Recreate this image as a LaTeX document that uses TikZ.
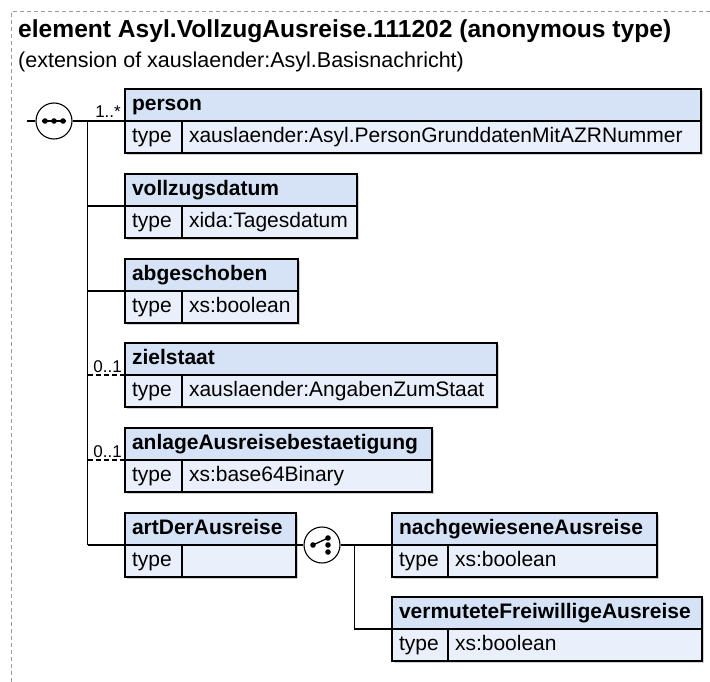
\documentclass[tikz,border=0pt]{standalone}
\usepackage{fontspec}
\setmainfont{Liberation Sans}
\usetikzlibrary{calc,shadows}
\definecolor{hdrblue}{HTML}{D6E3F7}
\definecolor{rowblue}{HTML}{EAF0FB}
\definecolor{framegray}{HTML}{9C9C9C}

\begin{document}
\begin{tikzpicture}[x=1pt,y=-1pt]
  \tikzset{boxshadow/.style={drop shadow={shadow xshift=2pt,shadow yshift=-2pt,fill=black!18,opacity=1}}}
  \tikzset{elemhead/.style={draw=black,line width=1.1pt,fill=hdrblue,anchor=north west,outer sep=0pt,
      minimum height=32pt,inner xsep=7pt,inner ysep=0pt,text height=15pt,text depth=4.5pt,align=left,
      font=\fontsize{21}{24}\selectfont\bfseries,boxshadow}}
  \tikzset{typecell/.style={elemhead,fill=rowblue,font=\fontsize{21}{24}\selectfont,text width=43pt}}
  \tikzset{typeval/.style={typecell,text width=#1}}
  \tikzset{conn/.style={draw=black,line width=1.1pt}}
  \tikzset{optconn/.style={conn,dash pattern=on 5pt off 3pt}}
  \tikzset{mult/.style={anchor=base east,inner sep=0pt,font=\fontsize{17}{18}\selectfont}}
  \tikzset{compositor/.style={circle,draw=black,line width=1.1pt,fill=white,minimum size=36pt,inner sep=0pt}}

  \useasboundingbox (0,0) rectangle (710,682);
  \draw[framegray,line width=1pt,dash pattern=on 4pt off 3pt] (11,682) -- (11,12) -- (710,12);

  \node[anchor=base west,inner sep=0pt,font=\fontsize{24.6}{28}\selectfont\bfseries] (title) at (18,38)
    {element Asyl.VollzugAusreise.111202 (anonymous type)};
  \node[anchor=base west,inner sep=0pt,font=\fontsize{21.5}{26}\selectfont] (subtitle) at (18,68)
    {(extension of xauslaender:Asyl.Basisnachricht)};

  \node[compositor] (seq) at (54,121) {};
  \draw[line width=1.3pt] ([xshift=-12pt]seq.center) -- ([xshift=12pt]seq.center);
  \foreach \dx in {-9,0,9}
    \fill ([xshift=\dx pt]seq.center) circle (2.8pt);
  \coordinate (lead) at ($(seq.west)+(-8,0)$);
  \coordinate (trunk) at ($(seq.east)+(15,0)$);

  \node[elemhead,text width=562pt] (person) at (125,89) {person};
  \node[typecell] (person-t) at (person.south west) {type};
  \node[typeval=505pt] (person-v) at (person-t.north east) {xauslaender:Asyl.PersonGrunddatenMitAZRNummer};

  \node[elemhead,text width=218pt] (vollz) at (125,174) {vollzugsdatum};
  \node[typecell] (vollz-t) at (vollz.south west) {type};
  \node[typeval=161pt] (vollz-v) at (vollz-t.north east) {xida:Tagesdatum};

  \node[elemhead,text width=159pt] (abgesch) at (125,259) {abgeschoben};
  \node[typecell] (abgesch-t) at (abgesch.south west) {type};
  \node[typeval=102pt] (abgesch-v) at (abgesch-t.north east) {xs:boolean};

  \node[elemhead,text width=358pt] (ziel) at (125,343) {zielstaat};
  \node[typecell] (ziel-t) at (ziel.south west) {type};
  \node[typeval=301pt] (ziel-v) at (ziel-t.north east) {xauslaender:AngabenZumStaat};

  \node[elemhead,text width=293pt] (anlage) at (125,428) {anlageAusreisebestaetigung};
  \node[typecell] (anlage-t) at (anlage.south west) {type};
  \node[typeval=236pt] (anlage-v) at (anlage-t.north east) {xs:base64Binary};

  \node[elemhead,text width=157pt] (art) at (125,513) {artDerAusreise};
  \node[typecell] (art-t) at (art.south west) {type};
  \node[typeval=100pt] (art-v) at (art-t.north east) {};

  \node[compositor] (choice) at (322,545) {};
  \draw[line width=1.3pt] ([shift={(-9,0)}]choice.center) -- ([shift={(6,-7)}]choice.center);
  \foreach \dy in {-7,0,7}
    \fill ([shift={(6,\dy)}]choice.center) circle (2.8pt);
  \fill ([shift={(-9,0)}]choice.center) circle (2.8pt);
  \coordinate (fork) at ($(choice.east)+(14,0)$);

  \node[elemhead,text width=251pt] (nachgew) at (392,513) {nachgewieseneAusreise};
  \node[typecell,text width=42pt] (nachgew-t) at (nachgew.south west) {type};
  \node[typeval=195pt] (nachgew-v) at (nachgew-t.north east) {xs:boolean};

  \node[elemhead,text width=296pt] (vermut) at (392,597) {vermuteteFreiwilligeAusreise};
  \node[typecell,text width=42pt] (vermut-t) at (vermut.south west) {type};
  \node[typeval=240pt] (vermut-v) at (vermut-t.north east) {xs:boolean};

  \draw[conn] (lead) -- (seq.west);
  \draw[conn] (seq.east) -- (person.south west);
  \draw[conn] (trunk) -- (trunk |- art.south west);
  \draw[conn] (trunk |- vollz.south west) -- (vollz.south west);
  \draw[conn] (trunk |- abgesch.south west) -- (abgesch.south west);
  \draw[optconn] (trunk |- ziel.south west) -- (ziel.south west);
  \draw[optconn] (trunk |- anlage.south west) -- (anlage.south west);
  \draw[conn] (trunk |- art.south west) -- (art.south west);

  \node[mult] (person-m) at ([shift={(-4,-3)}]person.south west) {1..*};
  \node[mult] (ziel-m) at ([shift={(-3,-3)}]ziel.south west) {0..1};
  \node[mult] (anlage-m) at ([shift={(-3,-3)}]anlage.south west) {0..1};

  \draw[conn] (art.south east) -- (choice.west);
  \draw[conn] (choice.east) -- (nachgew.south west);
  \draw[conn] (fork) |- (vermut.south west);
\end{tikzpicture}
\end{document}
